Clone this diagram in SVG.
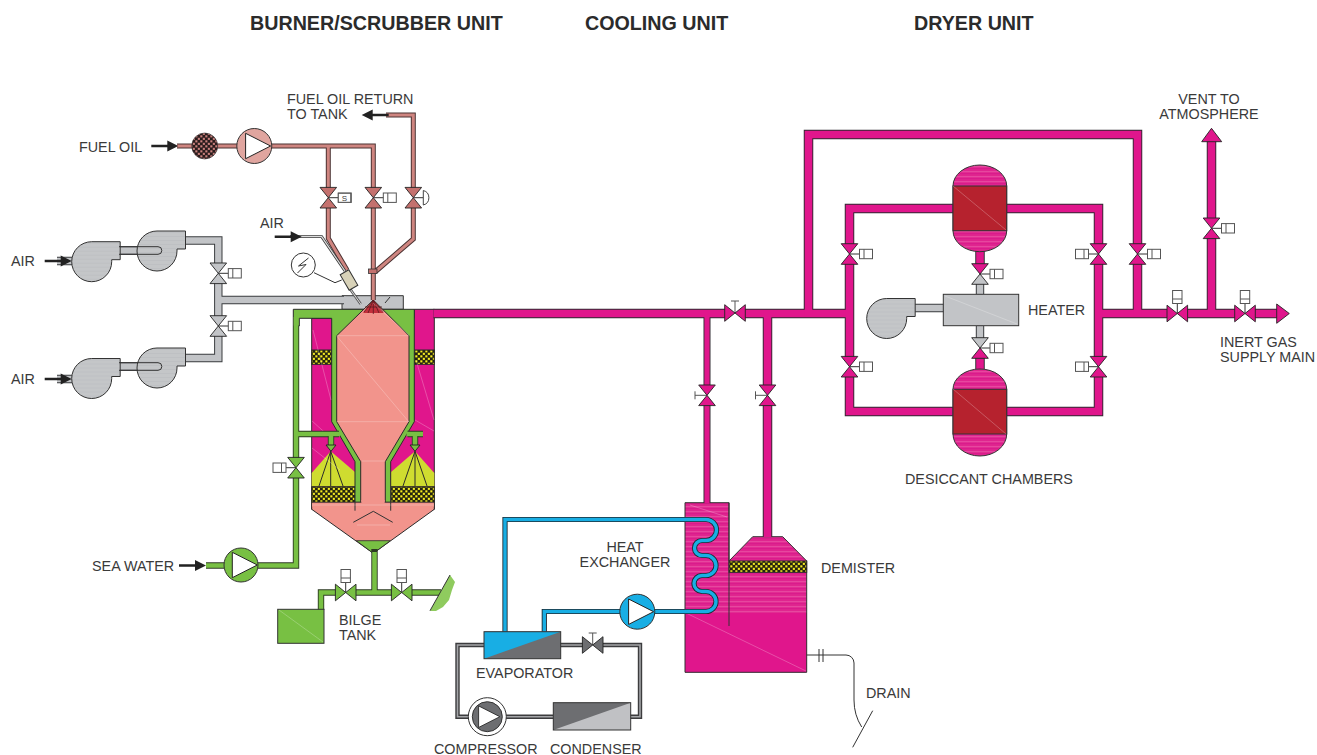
<svg xmlns="http://www.w3.org/2000/svg" width="1317" height="755" viewBox="0 0 1317 755">
<style>
text{font-family:"Liberation Sans",Arial,sans-serif;font-size:14.35px;fill:#3a3a3a}
text.h{font-weight:bold;font-size:19.7px;fill:#2b2b2b}
.c{text-anchor:middle}
.o{fill:none;stroke-linejoin:miter}
.mo{stroke:#2f2a30;stroke-width:9.5}.mi{stroke:#e0168c;stroke-width:7.6}
.n1o{stroke:#2f2a30;stroke-width:7}.n1i{stroke:#e0168c;stroke-width:5.2}
.go{stroke:#3a3d3f;stroke-width:8.4}.gi{stroke:#c2c4c7;stroke-width:6.4}
.fo{stroke:#4b3232;stroke-width:5}.fi{stroke:#cf8580;stroke-width:3}
.so{stroke:#2c3a22;stroke-width:6.4}.si{stroke:#78c043;stroke-width:4.6}
.bo{stroke:#1d2a33;stroke-width:5.2}.bi{stroke:#18aee4;stroke-width:3.4}
.ro{stroke:#3c3c3e;stroke-width:4.4}.ri{stroke:#a4a5a8;stroke-width:1.6}
.ln{fill:none;stroke:#333;stroke-width:1}
.e{stroke:#2a2a2a;stroke-width:1}
.vm{fill:#e0168c;stroke:#222;stroke-width:.9}
.vg{fill:#c2c4c7;stroke:#222;stroke-width:.9}
.vf{fill:#c4716e;stroke:#222;stroke-width:.9}
.vs{fill:#78c043;stroke:#222;stroke-width:.9}
.vd{fill:#6d6e71;stroke:#222;stroke-width:.9}
.act{fill:#fff;stroke:#555;stroke-width:1}
.sh{fill:none;stroke:#fff;stroke-opacity:.35;stroke-width:.7}
.ar{fill:#222}
.sp{fill:none;stroke:#2b2b2b;stroke-width:1}
</style>
<defs>
<pattern id="mesh" width="5" height="5" patternUnits="userSpaceOnUse"><rect width="5" height="5" fill="#24240f"/><rect x=".3" y=".3" width="2.1" height="2.1" fill="#f5ec20"/><rect x="2.8" y="2.8" width="2.1" height="2.1" fill="#f5ec20"/></pattern>
<pattern id="strain" width="5" height="5" patternUnits="userSpaceOnUse"><rect width="5" height="5" fill="#2a1c1c"/><rect x=".3" y=".3" width="2.1" height="2.1" fill="#c9807c"/><rect x="2.8" y="2.8" width="2.1" height="2.1" fill="#c9807c"/></pattern>
<pattern id="stm" width="40" height="5" patternUnits="userSpaceOnUse"><rect width="40" height="5" fill="#e0268f"/><rect y="1" width="40" height="1.2" fill="#e6479f"/><rect y="3.5" width="40" height=".6" fill="#d4108a"/></pattern>
<pattern id="stg" width="40" height="4" patternUnits="userSpaceOnUse"><rect width="40" height="4" fill="#c4c6c8"/><rect y="1" width="40" height=".7" fill="#bcbec1"/></pattern>
<path id="valve" d="M-8.3 -10.3H8.3L0 0L8.3 10.3H-8.3L0 0Z"/>
<path id="vhalf" d="M-8.3 -10.3H8.3L0 0Z"/>
<g id="act"><path d="M0 0H14.5" fill="none" stroke="#333" stroke-width="1"/><rect class="act" x="10" y="-4.7" width="13" height="9.4" fill="none"/><path d="M14.5 -4.7V4.7" fill="none" stroke="#555" stroke-width="1"/></g>
<path id="tee" d="M0 0V-12M-4 -12H4" fill="none" stroke="#555" stroke-width="1"/>
<path id="arrow" class="ar" d="M-27 -1.3H-11V-5.5L0 0L-11 5.5V1.3H-27Z"/>
<path id="blower" d="M28.5 -20H0A20 20 0 1 0 20 0V-2H28.5Z" fill="url(#stg)" stroke="#333" stroke-width="1"/>
<path id="tri" d="M-8.7 -12.7V12.7L16.3 0Z" fill="#fff" stroke="#222" stroke-width="1"/>
</defs>

<g id="scrubber">
<path d="M342 304V295.7H403.3V309.3H342Z" fill="#c2c4c7" stroke="#333" stroke-width="1"/>
<path d="M311.7 318.3H414.3V309.3H434.3V509.3H311.7Z" fill="#e0168c" stroke="#2a2a2a" stroke-width="1"/>
<rect class="e" x="311.7" y="350" width="20" height="14.3" fill="url(#mesh)"/>
<rect class="e" x="414.3" y="350" width="20" height="14.3" fill="url(#mesh)"/>
<path d="M330.7 451.3L311.7 473V486.7H355V472Z" fill="#cfdc30"/>
<path d="M415 451.3L391 472V486.7H434.3V473Z" fill="#cfdc30"/>
<path class="sp" d="M330.7 451.3L319 486M330.7 451.3V486M330.7 451.3L343 486M415 451.3L403 486M415 451.3V486M415 451.3L427 486"/>
<rect class="e" x="311.7" y="486.7" width="43.3" height="15.6" fill="url(#mesh)"/>
<rect class="e" x="391" y="486.7" width="43.3" height="15.6" fill="url(#mesh)"/>
<path class="e" fill="#78c043" d="M293.3 309.3H414.3V421.7L390.7 461.7V502.3H355V461.7L331.7 421.7V318.3H299.3V326H293.3Z"/>
<path d="M311.7 502.3H434.3V509.3L373.3 553.3L311.7 509.3Z" fill="#f2948c" stroke="#2a2a2a" stroke-width="1"/>
<path d="M356.4 540.7H390.3L373.3 553.3Z" fill="#78c043" stroke="#2a2a2a" stroke-width=".8"/>
<path class="e" fill="#f2948c" d="M373.3 300L409 335.7V421.7L385.3 461.7V502.3H360.7V461.7L336.7 421.7V335.7Z"/>
<rect x="361.3" y="500" width="23.4" height="6" fill="#f2948c"/>
<rect x="312.2" y="502.8" width="121.6" height="4" fill="#f2948c"/>
<path class="ln" d="M355 502V510.7M390.7 502V510.7M353.3 522.3L373.3 511.3L392.7 522.3"/>
<path d="M373.3 300L363 313H384Z" fill="#c4303c"/>
<path d="M373.3 300L364 312M373.3 300L368 313M373.3 300V314M373.3 300L379 313M373.3 300L383 312M365 307H382" fill="none" stroke="#5a1a20" stroke-width=".8"/>
<path class="ln" d="M385 303L390 297"/>
<path class="sh" d="M337 335.7H409M336.7 421.7H409M336.7 336L409 422M312 421L331 438M415 420L434 431M373 303L409 335M313 330L331 400M416 360L434 420M312 448L340 470M362 461H385M312 505H434M357 525H390"/>
</g>
<g id="tower">
<path d="M685 502.7H729V561L752.7 536.7H782.7L806.7 561V672.3H685Z" fill="url(#stm)"/>
<rect x="685" y="613" width="121.7" height="59.3" fill="#e0168c"/>
<path d="M685 502.7H729V561L752.7 536.7H782.7L806.7 561V672.3H685Z" fill="none" stroke="#333" stroke-width="1"/>
<rect class="e" x="729" y="561" width="77.7" height="11.3" fill="url(#mesh)"/>
<path class="ln" d="M729 502.7V626"/>
<path class="sh" d="M686 613L806 671M690 505L727 517"/>
</g>

<g id="connectors">
<path class="o mo" d="M433.5 313.5H729"/><path class="o mo" d="M741 313.5H849.5"/><path class="o mo" d="M1098.5 313.5H1171"/><path class="o mo" d="M1183.5 313.5H1239"/><path class="o mo" d="M1251 313.5H1278"/>
<path class="o mo" d="M808.5 309V134.5H1137.5V248"/><path class="o mo" d="M1137.5 260V311"/>
<path class="o mo" d="M849.5 248V208.5H954M1006 208.5H1098.5V248"/>
<path class="o mo" d="M849.5 260V361M849.5 373V411.5H954M1006 411.5H1098.5V373M1098.5 361V260"/>
<path class="o mo" d="M1211.5 135V222"/><path class="o mo" d="M1211.5 234V311"/>
<path class="o n1o" d="M707 318V389"/><path class="o n1o" d="M707 401V503"/>
<path class="o mo" d="M767.5 318V389"/><path class="o mo" d="M767.5 401V537"/>
<path class="o mo" d="M980 251V268"/><path class="o mo" d="M980 354V369"/>
<path class="o mi" d="M433.5 313.5H729"/><path class="o mi" d="M741 313.5H849.5"/><path class="o mi" d="M1098.5 313.5H1171"/><path class="o mi" d="M1183.5 313.5H1239"/><path class="o mi" d="M1251 313.5H1278"/>
<path class="o mi" d="M808.5 315V134.5H1137.5V248"/><path class="o mi" d="M1137.5 260V315"/>
<path class="o mi" d="M849.5 248V208.5H954M1006 208.5H1098.5V248"/>
<path class="o mi" d="M849.5 260V361M849.5 373V411.5H954M1006 411.5H1098.5V373M1098.5 361V260"/>
<path class="o mi" d="M1211.5 135V222"/><path class="o mi" d="M1211.5 234V315"/>
<path class="o n1i" d="M707 315V389"/><path class="o n1i" d="M707 401V503.5"/>
<path class="o mi" d="M767.5 315V389"/><path class="o mi" d="M767.5 401V537"/>
<path class="o mi" d="M980 251V268"/><path class="o mi" d="M980 354V369"/>
<path class="o go" d="M186 240.5H218.3V267"/><path class="o go" d="M218.3 279V320M218.3 300H344M218.3 332V358H186"/>
<path class="o go" d="M980 294V280M980 326V342M914 308H944"/>
<path class="o go" d="M119 250.5H158M119 366.5H158"/>
<path class="o go" d="M57 261H73M57 379H73"/>
<path class="o gi" d="M186 240.5H218.3V267"/><path class="o gi" d="M218.3 279V320M218.3 300H346M218.3 332V358H186"/>
<path class="o gi" d="M980 295V280M980 325V342M914 308H944"/>
<path class="o gi" d="M119 250.5H158M119 366.5H158"/>
<path class="o gi" d="M57 261H73M57 379H73"/>
<path class="o fo" d="M177 146H373.3V193M328.3 146V193M328.3 203V238.3L347 270M373.3 203V300M413.3 193V115H386M413.3 203V239L375 272"/>
<path class="o fi" d="M177 146H373.3V193M328.3 146V193M328.3 203V238.3L347 270M373.3 203V300M413.3 193V115H386M413.3 203V239L375 272"/>
<path d="M290 236.7H321.7L345 271" fill="none" stroke="#3a3a3a" stroke-width="2.8"/>
<path d="M290 236.7H321.7L345 271" fill="none" stroke="#ddd" stroke-width="1.2"/>
<path class="o so" d="M206 565.5H296V473M296 462V326M296 434H339M407.5 434H423M374.5 549V592.5M321 610V592.5H340M351 592.5H396M407 592.5H441"/>
<path class="o si" d="M206 565.5H296V473M296 462V317M296 434H340M406.5 434H423M374.5 552V592.5M321 610V592.5H340M351 592.5H396M407 592.5H441"/>
<path class="o so" d="M331 436V447M415 436V447"/><path class="o si" d="M331 435V447M415 435V447"/>
<path class="o bo" d="M505 632V519.5H706A10.5 10.5 0 0 1 706 540.5H702A7.5 7.5 0 0 0 702 555.5H706A10 10 0 0 1 706 575.5H702A8 8 0 0 0 702 591.5H706A10 10 0 0 1 706 611.5H544.3V632"/>
<path class="o bi" d="M505 632V519.5H706A10.5 10.5 0 0 1 706 540.5H702A7.5 7.5 0 0 0 702 555.5H706A10 10 0 0 1 706 575.5H702A8 8 0 0 0 702 591.5H706A10 10 0 0 1 706 611.5H544.3V632"/>
<path class="o ro" d="M484 645H457.5V716.7H553M630 716.7H640V645H601M585 645H560"/>
<path class="o ri" d="M484 645H457.5V716.7H553M630 716.7H640V645H601M585 645H560"/>
<path class="ln" d="M806.7 655H846A8 8 0 0 1 854 663V700Q854 715 861.7 727M819 649V662M823 649V662M872.7 710.7L852.7 747.3"/>
<path class="ln" d="M314 272.7L335 282.7L341.7 280"/>
</g>

<g id="blowers">
<use href="#blower" x="91.7" y="261.7"/><use href="#blower" x="157" y="251"/>
<use href="#blower" x="91.7" y="378.5"/><use href="#blower" x="157" y="368"/>
<path class="ln" d="M119 246.7H158A3.8 3.8 0 0 1 158 254.3H119M119 362.7H158A3.8 3.8 0 0 1 158 370.3H119"/>
</g>
<g id="heater">
<use href="#blower" x="886.7" y="318.5"/>
<rect x="943.3" y="294.3" width="75.4" height="31.4" fill="#c2c4c7" stroke="#333" stroke-width="1"/>
<path class="sh" d="M945 296L1017 324"/>
</g>
<g id="desiccant-top">
<path d="M953 186A26.85 21 0 0 1 1006.7 186V230.7A26.85 21 0 0 1 953 230.7Z" fill="url(#stm)" stroke="#333" stroke-width="1"/>
<rect x="953" y="186" width="53.7" height="44.7" fill="#b6222e" stroke="#333" stroke-width="1"/><path class="sh" d="M953 186L1006 230"/>
</g>
<g id="desiccant-bottom">
<path d="M953 389.3A26.85 20.3 0 0 1 1006.7 389.3V434A26.85 22 0 0 1 953 434Z" fill="url(#stm)" stroke="#333" stroke-width="1"/>
<rect x="953" y="389.3" width="53.7" height="44.7" fill="#b6222e" stroke="#333" stroke-width="1"/><path class="sh" d="M953 389L1006 434"/>
</g>
<g id="evaporator">
<rect x="484" y="631.7" width="76.7" height="27" fill="#6d6e71"/>
<path d="M484 631.7H560.7L484 658.7Z" fill="#18aee4"/>
<rect x="484" y="631.7" width="76.7" height="27" fill="none" stroke="#333" stroke-width="1"/>
</g>
<g id="condenser">
<rect x="553.3" y="702.7" width="77.4" height="27.3" fill="#c0c1c4"/>
<path d="M553.3 702.7H630.7L553.3 730Z" fill="#6d6e71"/>
<rect x="553.3" y="702.7" width="77.4" height="27.3" fill="none" stroke="#333" stroke-width="1"/>
</g>
<g id="compressor">
<circle cx="487.3" cy="716.7" r="19" fill="#fff" stroke="#333" stroke-width="1"/>
<circle cx="487.3" cy="716.7" r="15" fill="#6d6e71" stroke="#333" stroke-width="1"/>
<use href="#tri" transform="translate(486 716.7) scale(.85)"/>
</g>
<g id="fuel-strainer"><circle cx="204.7" cy="146" r="13" fill="url(#strain)" stroke="#333" stroke-width=".6"/></g>
<g id="fuel-pump"><circle cx="254.3" cy="146" r="17.5" fill="#e0a59f" stroke="#333" stroke-width="1"/><use href="#tri" x="254.3" y="146"/></g>
<g id="sea-pump"><circle cx="241" cy="565" r="17" fill="#78c043" stroke="#333" stroke-width="1"/><use href="#tri" x="241" y="565"/></g>
<g id="blue-pump"><circle cx="637.3" cy="611.7" r="17.5" fill="#18aee4" stroke="#333" stroke-width="1"/><use href="#tri" x="637.3" y="611.7"/></g>
<g id="bilge-tank"><rect x="277.7" y="609.3" width="46.3" height="34" fill="#78c043" stroke="#333" stroke-width="1"/><path class="sh" d="M279 610L323 642"/></g>
<g id="overboard"><path d="M450 575L455 582L452 590L449 600L443 607L436 611H430Z" fill="#8fcb5e"/><path class="ln" d="M450 575L430 610.7"/></g>
<g id="burner">
<path d="M348 286L360.7 304" fill="none" stroke="#555" stroke-width="2.6"/><path d="M348 286L360.7 304" fill="none" stroke="#ddd" stroke-width="1"/>
<rect x="344" y="271" width="10" height="18" transform="rotate(-30 349 280)" fill="#d8d2b8" stroke="#333" stroke-width="1"/>
<rect x="368.5" y="269" width="8.5" height="4.5" fill="#c4716e" stroke="#333" stroke-width=".8"/>
</g>
<g id="flame-sensor"><circle cx="303.3" cy="265" r="12" fill="#fff" stroke="#333" stroke-width="1"/><path class="ln" d="M308.5 258L298.5 266L306 264.5L297.5 273"/></g>

<g id="arrows">
<use href="#arrow" transform="translate(71.7 261)"/><use href="#arrow" transform="translate(71.7 379)"/>
<use href="#arrow" transform="translate(178.3 146)"/><use href="#arrow" transform="translate(301.7 236.7)"/>
<use href="#arrow" transform="translate(361.7 115) rotate(180)"/><use href="#arrow" transform="translate(206 565.5)"/>
<path class="vm" d="M1211.5 128.3L1221.7 141.7H1201.7Z"/>
<path class="vm" d="M1289.3 313.5L1276.7 304V323.3Z"/>
<path class="vs" d="M331 451.3L326 445H336Z"/><path class="vs" d="M415 451.3L410 445H420Z"/>
</g>

<g id="valve-fuel-s"><use href="#act" x="328.3" y="197.7"/><rect x="338.3" y="193.3" width="12.4" height="9" fill="#fff" stroke="#555"/><text x="344.5" y="200.6" class="c" style="font-size:8px">S</text><use href="#valve" class="vf" x="328.3" y="197.7"/></g>
<g id="valve-fuel-a"><use href="#act" x="373.3" y="197.7"/><use href="#valve" class="vf" x="373.3" y="197.7"/></g>
<g id="valve-fuel-r"><path d="M413.3 197.7H423.3" stroke="#333" fill="none"/><path d="M423.3 190.5A7.5 7.5 0 0 1 423.3 205Z" fill="#fff" stroke="#444"/><use href="#valve" class="vf" x="413.3" y="197.7"/></g>
<g id="valve-air-1"><use href="#act" x="218.3" y="273.3"/><use href="#valve" class="vg" x="218.3" y="273.3"/></g>
<g id="valve-air-2"><use href="#act" x="218.3" y="326"/><use href="#valve" class="vg" x="218.3" y="326"/></g>
<g id="valve-sea"><use href="#act" transform="translate(296 467.7) rotate(180)"/><use href="#valve" class="vs" x="296" y="467.7"/></g>
<g id="valve-bilge-1"><use href="#act" transform="translate(345.7 592.5) rotate(-90)"/><use href="#valve" class="vs" transform="translate(345.7 592.5) rotate(90)"/></g>
<g id="valve-bilge-2"><use href="#act" transform="translate(401.7 592.5) rotate(-90)"/><use href="#valve" class="vs" transform="translate(401.7 592.5) rotate(90)"/></g>
<g id="valve-main"><use href="#tee" x="735" y="313"/><use href="#valve" class="vm" transform="translate(735 313) rotate(90)"/></g>
<g id="valve-cool-1"><use href="#tee" transform="translate(707 395.3) rotate(-90)"/><use href="#valve" class="vm" x="707" y="395.3"/></g>
<g id="valve-cool-2"><use href="#tee" transform="translate(767.5 395.3) rotate(-90)"/><use href="#valve" class="vm" x="767.5" y="395.3"/></g>
<g id="valve-d1"><use href="#act" x="849.5" y="254"/><use href="#valve" class="vm" x="849.5" y="254"/></g>
<g id="valve-d2"><use href="#act" x="849.5" y="366.7"/><use href="#valve" class="vm" x="849.5" y="366.7"/></g>
<g id="valve-d3"><use href="#act" transform="translate(1098.5 254) rotate(180)"/><use href="#valve" class="vm" x="1098.5" y="254"/></g>
<g id="valve-d4"><use href="#act" transform="translate(1098.5 366.7) rotate(180)"/><use href="#valve" class="vm" x="1098.5" y="366.7"/></g>
<g id="valve-d5"><use href="#act" x="1137.5" y="254"/><use href="#valve" class="vm" x="1137.5" y="254"/></g>
<g id="valve-vent"><use href="#act" x="1211.5" y="228.3"/><use href="#valve" class="vm" x="1211.5" y="228.3"/></g>
<g id="valve-h1"><use href="#act" x="980" y="274"/><use href="#vhalf" class="vm" x="980" y="274"/><use href="#vhalf" class="vg" transform="translate(980 274) rotate(180)"/></g>
<g id="valve-h2"><use href="#act" x="980" y="348"/><use href="#vhalf" class="vg" x="980" y="348"/><use href="#vhalf" class="vm" transform="translate(980 348) rotate(180)"/></g>
<g id="valve-m1"><use href="#act" transform="translate(1177.3 313.5) rotate(-90)"/><use href="#valve" class="vm" transform="translate(1177.3 313.5) rotate(90)"/></g>
<g id="valve-m2"><use href="#act" transform="translate(1245 313.5) rotate(-90)"/><use href="#valve" class="vm" transform="translate(1245 313.5) rotate(90)"/></g>
<g id="valve-ref"><use href="#tee" x="592.7" y="645"/><use href="#valve" class="vd" transform="translate(592.7 645) rotate(90)"/></g>

<g id="labels">
<text class="h" x="250" y="30">BURNER/SCRUBBER UNIT</text>
<text class="h" x="585" y="30">COOLING UNIT</text>
<text class="h" x="914" y="30">DRYER UNIT</text>
<text x="287" y="104">FUEL OIL RETURN</text><text x="287" y="119">TO TANK</text>
<text x="79" y="152">FUEL OIL</text>
<text x="260" y="228">AIR</text><text x="11" y="266">AIR</text><text x="11" y="384">AIR</text>
<text x="92" y="571">SEA WATER</text>
<text x="339" y="625">BILGE</text><text x="339" y="640">TANK</text>
<text class="c" x="625" y="552">HEAT</text><text class="c" x="625" y="567">EXCHANGER</text>
<text x="821" y="573">DEMISTER</text>
<text x="476" y="678">EVAPORATOR</text>
<text x="434" y="754">COMPRESSOR</text><text x="550" y="754">CONDENSER</text>
<text x="866" y="698">DRAIN</text>
<text x="1028" y="315">HEATER</text>
<text x="905" y="484">DESICCANT CHAMBERS</text>
<text class="c" x="1209" y="104">VENT TO</text><text class="c" x="1209" y="119">ATMOSPHERE</text>
<text x="1220" y="347">INERT GAS</text><text x="1220" y="362">SUPPLY MAIN</text>
</g>
</svg>
